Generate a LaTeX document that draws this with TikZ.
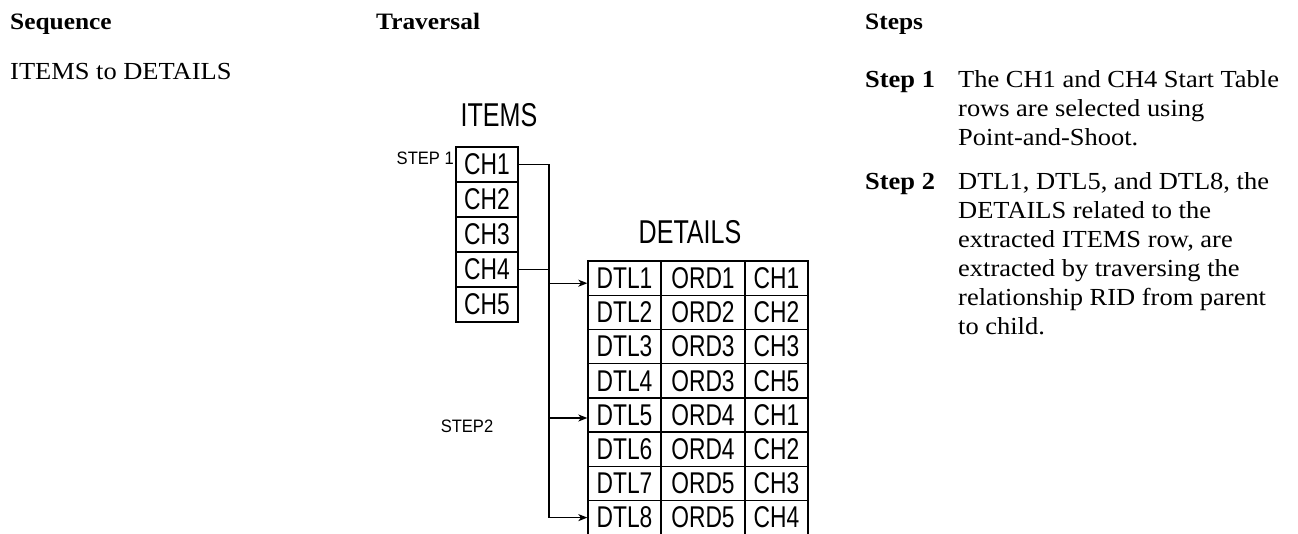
\documentclass[tikz,border=0pt]{standalone}
\usepackage{fontspec}
\usetikzlibrary{arrows.meta,calc}
\newfontfamily\diagfont[FakeStretch=0.76]{Liberation Sans}
\newfontfamily\lblfont[FakeStretch=0.92]{Liberation Sans}
\newfontfamily\docfont[FakeStretch=1.08]{Liberation Serif}
\tikzset{
  head/.style={anchor=base west,inner sep=0pt,font=\fontsize{23.5}{28}\docfont\bfseries},
  body/.style={anchor=base west,inner sep=0pt,font=\fontsize{24.5}{28}\docfont},
  stepname/.style={anchor=base west,inner sep=0pt,font=\fontsize{24.5}{28}\docfont\bfseries},
  tabtitle/.style={inner sep=0pt,font=\fontsize{33}{36}\diagfont},
  steplbl/.style={inner sep=0pt,font=\fontsize{18}{18}\lblfont},
  cellbox/.style={draw,line width=1.3pt,inner sep=0pt,minimum height=35pt,font=\fontsize{30}{30}\diagfont},
  itemcell/.style={cellbox,minimum width=62pt},
  dtlcell/.style={cellbox,minimum height=34.2pt,minimum width=73pt},
  ordcell/.style={cellbox,minimum height=34.2pt,minimum width=84pt},
  chcell/.style={cellbox,minimum height=34.2pt,minimum width=63pt},
  link/.style={line width=1.3pt},
  arr/.style={line width=1.3pt,-{Stealth[length=9pt,width=7pt,inset=2.5pt]}}
}
\begin{document}
\begin{tikzpicture}[x=1pt,y=-1pt]
\useasboundingbox (0,0) rectangle (1298,533);
\fill[white] (0,0) rectangle (1298,533);
% left and middle headings
\node[head] (hseq) at (10,29) {Sequence};
\node[head] (htrav) at (376,29) {Traversal};
\node[head] (hsteps) at (865,29) {Steps};
\node[body] (seq) at (10,79) {ITEMS to DETAILS};
% ITEMS table
\node[tabtitle] (itemst) at (499,115) {ITEMS};
\foreach \i in {1,...,5}{
  \node[itemcell] (ch\i) at (487,{164.5+35*(\i-1)}) {CH\i};
}
\node[steplbl,anchor=east] (st1) at (454,158) {STEP 1};
% DETAILS table
\node[tabtitle] (detailst) at (690,232) {DETAILS};
\foreach \i/\o/\c in {1/1/1,2/2/2,3/3/3,4/3/5,5/4/1,6/4/2,7/5/3,8/5/4}{
  \node[dtlcell] (d\i) at (624.5,{278.2+34.2*(\i-1)}) {DTL\i};
  \node[ordcell] (o\i) at (703,{278.2+34.2*(\i-1)}) {ORD\o};
  \node[chcell] (c\i) at (776.5,{278.2+34.2*(\i-1)}) {CH\c};
}
\node[steplbl] (st2) at (467,426) {STEP2};
% connectors
\coordinate (bus) at (549,0);
\coordinate (a1) at ([yshift=-5pt]d1.west);
\coordinate (a5) at ([yshift=-3pt]d5.west);
\draw[arr] (ch1.east) -- (ch1.east -| bus) |- (d8.west);
\draw[link] (ch4.east) -- (ch4.east -| bus);
\draw[arr] (a1 -| bus) -- (a1);
\draw[arr] (a5 -| bus) -- (a5);
% steps column
\node[stepname] (s1) at (865,87) {Step 1};
\node[body] (s1a) at (958,87) {The CH1 and CH4 Start Table};
\node[body] (s1b) at (958,116) {rows are selected using};
\node[body] (s1c) at (958,145) {Point-and-Shoot.};
\node[stepname] (s2) at (865,189) {Step 2};
\node[body] (s2a) at (958,189) {DTL1, DTL5, and DTL8, the};
\node[body] (s2b) at (958,218) {DETAILS related to the};
\node[body] (s2c) at (958,247) {extracted ITEMS row, are};
\node[body] (s2d) at (958,276) {extracted by traversing the};
\node[body] (s2e) at (958,305) {relationship RID from parent};
\node[body] (s2f) at (958,334) {to child.};
\end{tikzpicture}
\end{document}
